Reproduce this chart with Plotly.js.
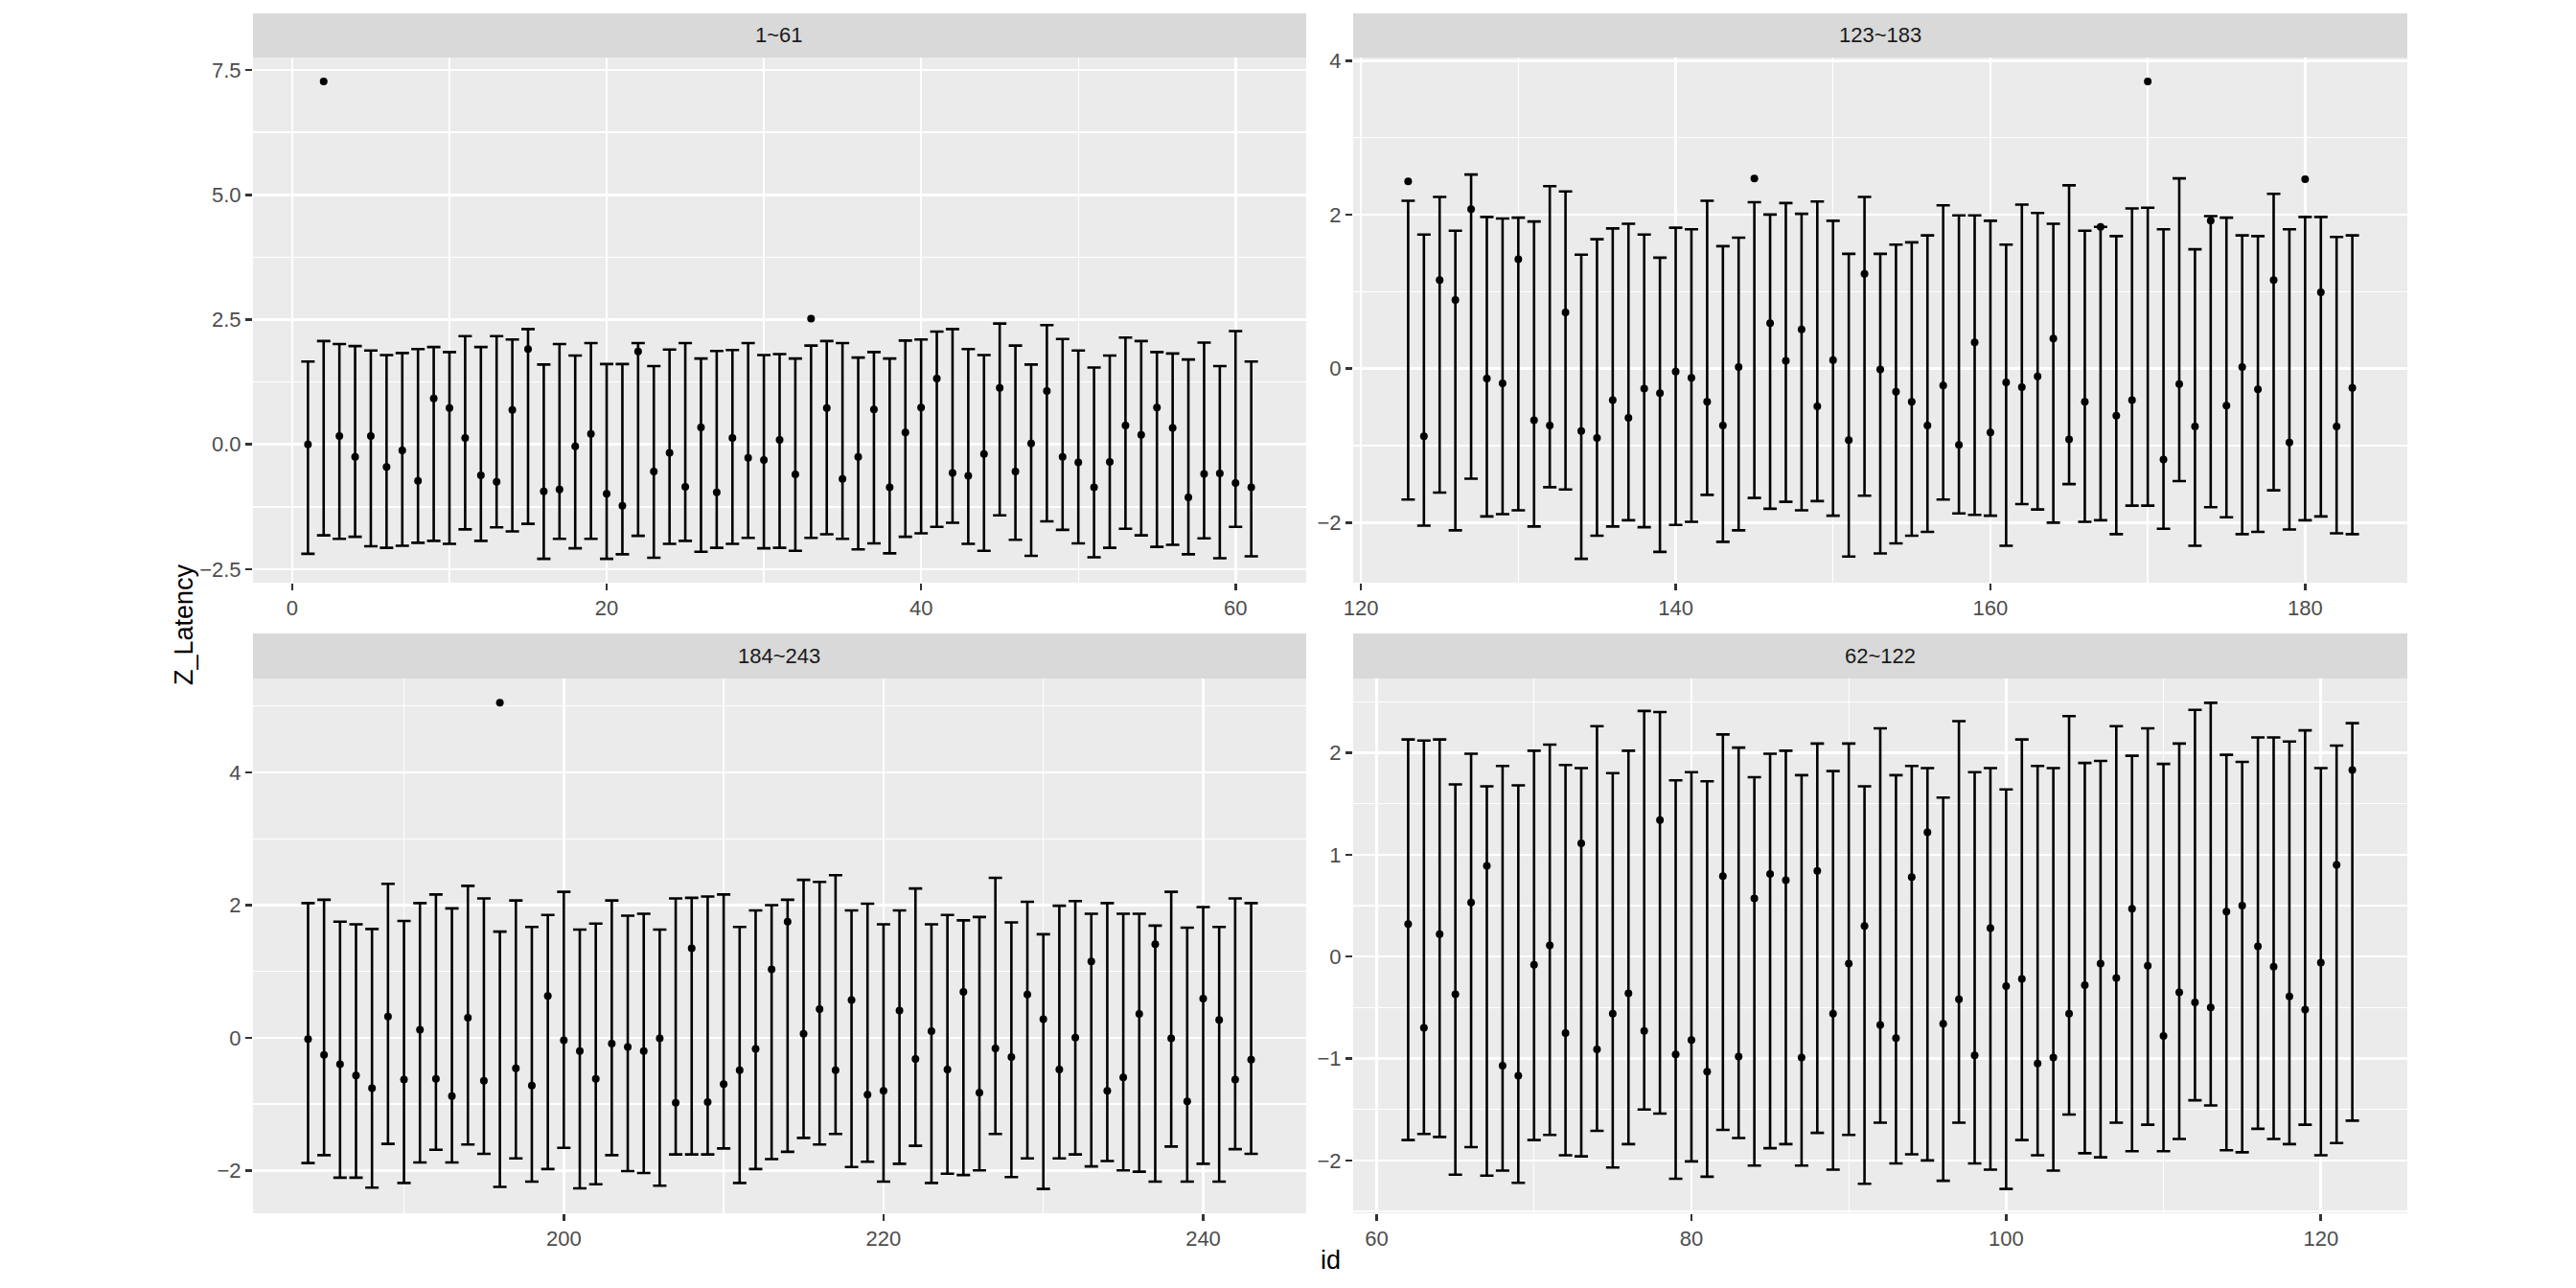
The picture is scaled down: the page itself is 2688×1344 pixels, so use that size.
<!DOCTYPE html>
<html>
<head>
<meta charset="utf-8">
<script src="https://cdn.plot.ly/plotly-3.0.1.min.js"></script>
<style>html,body{margin:0;padding:0;background:#ffffff;}</style>
</head>
<body>
<div id="chart" style="width:2688px;height:1344px;"></div>
<script>
// ---- data (id = position in array, 1..243) ----
const zMean = [
 0.00, 7.27, 0.17,-0.25, 0.17,-0.45,-0.12,-0.73, 0.92, 0.73,
 0.13,-0.62,-0.75, 0.69, 1.91,-0.94,-0.90,-0.04, 0.21,-0.99,
-1.23, 1.86,-0.54,-0.17,-0.85, 0.34,-0.96, 0.13,-0.27,-0.31,
 0.09,-0.60, 2.52, 0.73,-0.69,-0.25, 0.70,-0.86, 0.24, 0.74,
 1.32,-0.57,-0.63,-0.19, 1.13,-0.54, 0.02, 1.07,-0.25,-0.36,
-0.86,-0.35, 0.38, 0.19, 0.74, 0.33,-1.06,-0.59,-0.58,-0.77,
-0.86,
 0.32,-0.70, 0.22,-0.37, 0.53, 0.89,-1.07,-1.17,-0.08, 0.11,
-0.75, 1.11,-0.91,-0.56,-0.36,-0.73, 1.34,-0.96,-0.82,-1.13,
 0.79,-0.98, 0.57, 0.81, 0.75,-0.99, 0.84,-0.56,-0.07, 0.30,
-0.67,-0.80, 0.78, 1.22,-0.66,-0.42,-0.97, 0.28,-0.29,-0.22,
-1.05,-0.99,-0.56,-0.28,-0.07,-0.21, 0.47,-0.09,-0.78,-0.35,
-0.45,-0.50, 0.44, 0.50, 0.10,-0.10,-0.39,-0.52,-0.06, 0.90,
 1.83,
 2.43,-0.88, 1.15, 0.89, 2.07,-0.13,-0.19, 1.42,-0.67,-0.74,
 0.73,-0.81,-0.90,-0.41,-0.64,-0.26,-0.32,-0.04,-0.12,-0.43,
-0.74, 0.02, 2.47, 0.59, 0.10, 0.51,-0.49, 0.11,-0.93, 1.23,
-0.01,-0.30,-0.43,-0.74,-0.22,-0.99, 0.34,-0.83,-0.18,-0.24,
-0.10, 0.39,-0.92,-0.43, 1.84,-0.61,-0.41, 3.73,-1.18,-0.20,
-0.75, 1.92,-0.48, 0.02,-0.27, 1.15,-0.96, 2.46, 0.99,-0.75,
-0.25,
-0.02,-0.26,-0.40,-0.57,-0.76, 0.32,-0.63, 0.12,-0.62,-0.88,
 0.30,-0.65, 5.05,-0.46,-0.72, 0.63,-0.04,-0.20,-0.62,-0.09,
-0.14,-0.20,-0.01,-0.98, 1.35,-0.97,-0.70,-0.49,-0.17, 1.03,
 1.75, 0.06, 0.43,-0.49, 0.57,-0.86,-0.80, 0.41,-0.32, 0.10,
-0.48, 0.69,-0.83,-0.16,-0.29, 0.65, 0.28,-0.48, 0.00, 1.15,
-0.80,-0.60, 0.36, 1.41,-0.01,-0.96, 0.59, 0.27,-0.63,-0.33
];
const zUpper = [
 1.66, 2.07, 2.01, 1.97, 1.88, 1.79, 1.83, 1.91, 1.95, 1.85,
 2.17, 1.95, 2.17, 2.10, 2.31, 1.60, 2.01, 1.78, 2.03, 1.61,
 1.61, 2.03, 1.57, 1.90, 2.03, 1.72, 1.87, 1.89, 2.03, 1.79,
 1.81, 1.72, 1.98, 2.07, 2.03, 1.74, 1.85, 1.72, 2.08, 2.10,
 2.26, 2.31, 1.91, 1.79, 2.42, 1.98, 1.60, 2.39, 2.11, 1.88,
 1.54, 1.78, 2.14, 2.07, 1.85, 1.82, 1.70, 2.04, 1.57, 2.27,
 1.66,
 2.13, 2.12, 2.13, 1.69, 1.99, 1.67, 1.87, 1.68, 2.02, 2.08,
 1.88, 1.85, 2.26, 1.80, 2.02, 2.41, 2.40, 1.73, 1.81, 1.72,
 2.18, 2.05, 1.76, 1.99, 2.02, 1.78, 2.09, 1.82, 2.09, 1.67,
 2.24, 1.78, 1.87, 1.85, 1.56, 2.31, 1.81, 1.85, 1.64, 2.13,
 1.87, 1.85, 2.36, 1.90, 1.92, 2.26, 1.97, 2.24, 1.89, 2.09,
 2.42, 2.49, 1.98, 1.91, 2.15, 2.15, 2.11, 2.22, 1.85, 2.07,
 2.29,
 2.18, 1.74, 2.23, 1.79, 2.52, 1.97, 1.95, 1.96, 1.91, 2.37,
 2.30, 1.48, 1.68, 1.82, 1.88, 1.74, 1.44, 1.83, 1.81, 2.18,
 1.59, 1.70, 2.16, 2.00, 2.15, 2.01, 2.17, 1.92, 1.49, 2.23,
 1.49, 1.61, 1.64, 1.73, 2.12, 1.99, 1.99, 1.92, 1.61, 2.13,
 2.02, 1.88, 2.38, 1.79, 1.84, 1.72, 2.08, 2.09, 1.81, 2.47,
 1.55, 1.98, 1.96, 1.73, 1.72, 2.27, 1.81, 1.97, 1.97, 1.71,
 1.73,
 2.03, 2.08, 1.75, 1.71, 1.64, 2.32, 1.76, 2.03, 2.16, 1.95,
 2.29, 2.10, 1.60, 2.07, 1.67, 1.85, 2.20, 1.63, 1.72, 2.07,
 1.84, 1.87, 1.63, 2.10, 2.11, 2.13, 2.16, 1.67, 1.92, 2.00,
 2.08, 2.38, 2.35, 2.45, 1.92, 2.02, 1.71, 1.92, 2.25, 1.71,
 1.85, 1.77, 1.82, 2.41, 1.74, 2.05, 1.56, 1.99, 2.06, 1.87,
 2.03, 1.87, 1.87, 1.69, 2.20, 1.66, 1.97, 1.67, 2.10, 2.03
];
const zLower = [
-2.19,-1.82,-1.89,-1.85,-2.04,-2.07,-2.03,-1.97,-1.93,-1.99,
-1.70,-1.93,-1.66,-1.74,-1.59,-2.29,-1.89,-2.08,-1.89,-2.29,
-2.20,-1.83,-2.27,-1.99,-1.93,-2.15,-2.07,-1.99,-1.87,-2.08,
-2.07,-2.13,-1.87,-1.80,-1.89,-2.10,-1.98,-2.18,-1.85,-1.78,
-1.65,-1.57,-1.99,-2.13,-1.42,-1.91,-2.23,-1.54,-1.71,-1.98,
-2.26,-2.07,-1.69,-1.82,-2.05,-2.01,-2.20,-1.88,-2.28,-1.65,
-2.24,
-1.80,-1.74,-1.77,-2.14,-1.87,-2.15,-2.10,-2.22,-1.80,-1.75,
-1.95,-1.96,-1.71,-2.07,-1.84,-1.50,-1.54,-2.18,-2.01,-2.16,
-1.70,-1.78,-2.05,-1.88,-1.84,-2.05,-1.73,-2.09,-1.75,-2.23,
-1.63,-2.03,-1.94,-2.00,-2.20,-1.63,-2.03,-2.09,-2.28,-1.80,
-1.95,-2.10,-1.55,-1.93,-1.97,-1.63,-1.91,-1.65,-1.91,-1.79,
-1.41,-1.46,-1.90,-1.92,-1.69,-1.79,-1.84,-1.65,-1.95,-1.83,
-1.61,
-1.70,-2.04,-1.61,-2.10,-1.43,-1.92,-1.89,-1.84,-2.05,-1.54,
-1.57,-2.47,-2.17,-2.05,-1.97,-2.06,-2.38,-2.03,-1.99,-1.64,
-2.25,-2.10,-1.68,-1.82,-1.73,-1.84,-1.72,-1.91,-2.44,-1.65,
-2.40,-2.27,-2.17,-2.12,-1.70,-1.88,-1.90,-1.91,-2.30,-1.76,
-1.83,-2.00,-1.50,-1.99,-1.97,-2.15,-1.78,-1.78,-2.08,-1.46,
-2.30,-1.80,-1.93,-2.15,-2.12,-1.58,-2.09,-1.97,-1.92,-2.14,
-2.15,
-1.89,-1.77,-2.11,-2.11,-2.26,-1.60,-2.19,-1.88,-1.69,-1.88,
-1.61,-1.75,-2.25,-1.82,-2.17,-1.98,-1.66,-2.27,-2.21,-1.77,
-2.01,-2.04,-2.23,-1.76,-1.76,-1.76,-1.67,-2.19,-1.98,-1.83,
-1.72,-1.51,-1.61,-1.45,-1.95,-1.87,-2.17,-1.90,-1.63,-2.19,
-2.05,-2.07,-2.00,-1.45,-2.10,-1.82,-2.28,-1.82,-1.76,-1.94,
-1.86,-2.00,-2.02,-2.17,-1.64,-2.17,-1.90,-2.17,-1.68,-1.75
];
// facets in ggplot panel order
const facetLabels = ['1~61', '123~183', '184~243', '62~122'];
const facetFirst  = [1, 123, 184, 62];
const facetLast   = [61, 183, 243, 122];
const xTickStep   = [20, 20, 20, 20];
const yTickStep   = [2.5, 2, 2, 1];
const yTickFormat = ['.1f', 'd', 'd', 'd'];

// ---- layout geometry ----
const W = 2688, H = 1344;
const colX = [[264, 1363], [1412, 2512]];
const rowPlotY = [[60, 608], [708, 1266]];
const rowStripY = [[14, 60], [661, 708]];
const FONT = 'Liberation Sans, Arial, sans-serif';

const traces = [];
const layout = {
  width: W, height: H, autosize: false,
  margin: {l: 0, r: 0, t: 0, b: 0},
  paper_bgcolor: '#FFFFFF', plot_bgcolor: '#EBEBEB',
  showlegend: false, hovermode: false,
  font: {family: FONT, color: '#000000'},
  shapes: [], annotations: []
};

function expand(lo, hi) { const d = (hi - lo) * 0.05; return [lo - d, hi + d]; }

for (let f = 0; f < 4; f++) {
  const n = f + 1;
  const sfx = n === 1 ? '' : String(n);
  const col = f % 2, row = Math.floor(f / 2);
  const xs = [], mn = [], up = [], lo = [];
  for (let id = facetFirst[f]; id <= facetLast[f]; id++) {
    xs.push(id); mn.push(zMean[id - 1]); up.push(zUpper[id - 1]); lo.push(zLower[id - 1]);
  }
  const span = up.map((u, i) => u - lo[i]);
  const zeros = lo.map(() => 0);
  traces.push({
    type: 'scatter', mode: 'markers', x: xs, y: lo,
    xaxis: 'x' + sfx, yaxis: 'y' + sfx,
    marker: {size: 1, color: 'rgba(0,0,0,0)'},
    error_y: {type: 'data', symmetric: false, array: span, arrayminus: zeros,
              color: '#000000', thickness: 2.6, width: 7},
    hoverinfo: 'skip'
  });
  traces.push({
    type: 'scatter', mode: 'markers', x: xs, y: mn,
    xaxis: 'x' + sfx, yaxis: 'y' + sfx,
    marker: {size: 8, color: '#000000'}
  });
  const xr = expand(Math.min(...xs) - 0.45, Math.max(...xs) + 0.45);
  const yr = expand(Math.min(...lo, ...mn), Math.max(...up, ...mn));
  const xd = [colX[col][0] / W, colX[col][1] / W];
  const yd = [1 - rowPlotY[row][1] / H, 1 - rowPlotY[row][0] / H];
  const common = {
    showgrid: true, gridcolor: '#FFFFFF', gridwidth: 2.6,
    zeroline: false, showline: false,
    ticks: 'outside', ticklen: 7, tickwidth: 2.6, tickcolor: '#333333',
    tickfont: {family: FONT, size: 22, color: '#4D4D4D'},
    fixedrange: true, tickmode: 'linear', tick0: 0
  };
  layout['xaxis' + sfx] = Object.assign({}, common, {
    domain: xd, range: xr, anchor: 'y' + sfx, dtick: xTickStep[f],
    minor: {tick0: 0, dtick: xTickStep[f] / 2, showgrid: true, gridcolor: '#FFFFFF', gridwidth: 1.3, ticks: ''}
  });
  layout['yaxis' + sfx] = Object.assign({}, common, {
    domain: yd, range: yr, anchor: 'x' + sfx, dtick: yTickStep[f], tickformat: yTickFormat[f],
    minor: {tick0: 0, dtick: yTickStep[f] / 2, showgrid: true, gridcolor: '#FFFFFF', gridwidth: 1.3, ticks: ''}
  });
  // strip
  const sy = [1 - rowStripY[row][1] / H, 1 - rowStripY[row][0] / H];
  layout.shapes.push({type: 'rect', xref: 'paper', yref: 'paper',
    x0: xd[0], x1: xd[1], y0: sy[0], y1: sy[1],
    fillcolor: '#D9D9D9', line: {width: 0}, layer: 'below'});
  layout.annotations.push({xref: 'paper', yref: 'paper',
    x: (xd[0] + xd[1]) / 2, y: (sy[0] + sy[1]) / 2, xanchor: 'center', yanchor: 'middle',
    text: facetLabels[f], showarrow: false, font: {family: FONT, size: 22, color: '#1A1A1A'}});
}
layout.annotations.push({xref: 'paper', yref: 'paper', x: 1388 / W, y: 1 - 1315 / H,
  xanchor: 'center', yanchor: 'middle', text: 'id', showarrow: false,
  font: {family: FONT, size: 27, color: '#000000'}});
layout.annotations.push({xref: 'paper', yref: 'paper', x: 192 / W, y: 1 - 652 / H,
  xanchor: 'center', yanchor: 'middle', text: 'Z_Latency', textangle: -90, showarrow: false,
  font: {family: FONT, size: 27, color: '#000000'}});

Plotly.newPlot('chart', traces, layout, {staticPlot: true, displayModeBar: false});
</script>
</body>
</html>
